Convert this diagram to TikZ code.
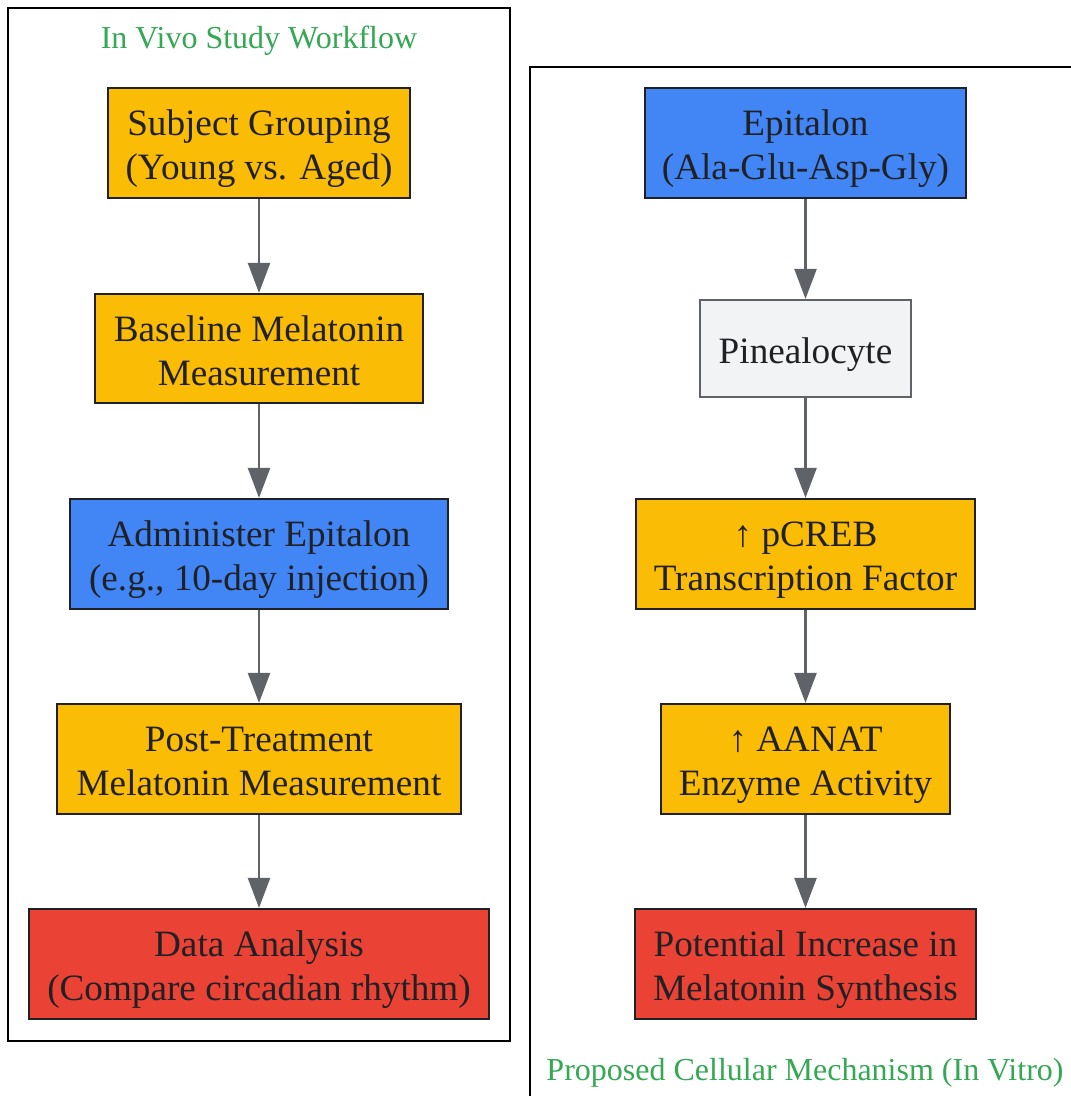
\documentclass[tikz,border=0pt]{standalone}
\usepackage{fontspec}
\setmainfont{Liberation Serif}
\usetikzlibrary{arrows.meta}
\definecolor{gyellow}{HTML}{FBBC05}
\definecolor{gblue}{HTML}{4285F4}
\definecolor{gred}{HTML}{EA4335}
\definecolor{ggrey}{HTML}{F1F3F4}
\definecolor{gline}{HTML}{5F6368}
\definecolor{gtext}{HTML}{202124}
\definecolor{ggreen}{HTML}{34A853}
\newcommand{\tx}[1]{\raisebox{-6pt}[\height][\depth]{\begin{tabular}{@{}c@{}}#1\end{tabular}}}
\tikzset{
  box/.style={draw=gtext, line width=2.2pt, rectangle, inner sep=0pt, align=center,
    text=gtext, font=\fontsize{37.2}{44}\selectfont},
  yel/.style={box, fill=gyellow},
  blu/.style={box, fill=gblue},
  rd/.style={box, fill=gred},
  gry/.style={box, fill=ggrey, draw=gline},
  conn/.style={draw=gline, line width=2.4pt, -{Triangle[length=30pt,width=22pt]}},
  clus/.style={draw=black, line width=2.5pt},
  ctitle/.style={text=ggreen, font=\fontsize{32}{36}\selectfont, inner sep=0pt}
}
\begin{document}
\begin{tikzpicture}[x=1pt,y=-1pt]
\useasboundingbox (0,0) rectangle (1071,1096);
\fill[white] (0,0) rectangle (1071,1096);
% clusters
\draw[clus] (8,8) rectangle (510,1041);
\begin{scope}
\clip (0,0) rectangle (1071,1096);
\draw[clus] (530,67) rectangle (1090,1120);
\end{scope}
\node[ctitle] (t1) at (259,41) {In Vivo Study Workflow};
\node[ctitle] (t2) at (805,1073) {Proposed Cellular Mechanism (In Vitro)};
% left column
\node[yel, minimum width=302pt, minimum height=110pt] (a1) at (259,143) {\tx{Subject Grouping\\(Young vs. Aged)}};
\node[yel, minimum width=328pt, minimum height=109pt] (a2) at (259,348.5) {\tx{Baseline Melatonin\\Measurement}};
\node[blu, minimum width=378pt, minimum height=110pt] (a3) at (259,554) {\tx{Administer Epitalon\\(e.g., 10-day injection)}};
\node[yel, minimum width=404pt, minimum height=110pt] (a4) at (259,759) {\tx{Post-Treatment\\Melatonin Measurement}};
\node[rd, minimum width=460pt, minimum height=110pt] (a5) at (259,964) {\tx{Data Analysis\\(Compare circadian rhythm)}};
% right column
\node[blu, minimum width=321pt, minimum height=110pt] (b1) at (805.5,143) {\tx{Epitalon\\(Ala-Glu-Asp-Gly)}};
\node[gry, minimum width=211pt, minimum height=97pt] (b2) at (805.5,348.5) {\tx{Pinealocyte}};
\node[yel, minimum width=339pt, minimum height=110pt] (b3) at (805.5,554) {\tx{↑ pCREB\\Transcription Factor}};
\node[yel, minimum width=289pt, minimum height=110pt] (b4) at (805.5,759) {\tx{↑ AANAT\\Enzyme Activity}};
\node[rd, minimum width=341pt, minimum height=110pt] (b5) at (805.5,964) {\tx{Potential Increase in\\Melatonin Synthesis}};
% connectors
\draw[conn] (a1) -- (a2);
\draw[conn] (a2) -- (a3);
\draw[conn] (a3) -- (a4);
\draw[conn] (a4) -- (a5);
\draw[conn] (b1) -- (b2);
\draw[conn] (b2) -- (b3);
\draw[conn] (b3) -- (b4);
\draw[conn] (b4) -- (b5);
\end{tikzpicture}
\end{document}
